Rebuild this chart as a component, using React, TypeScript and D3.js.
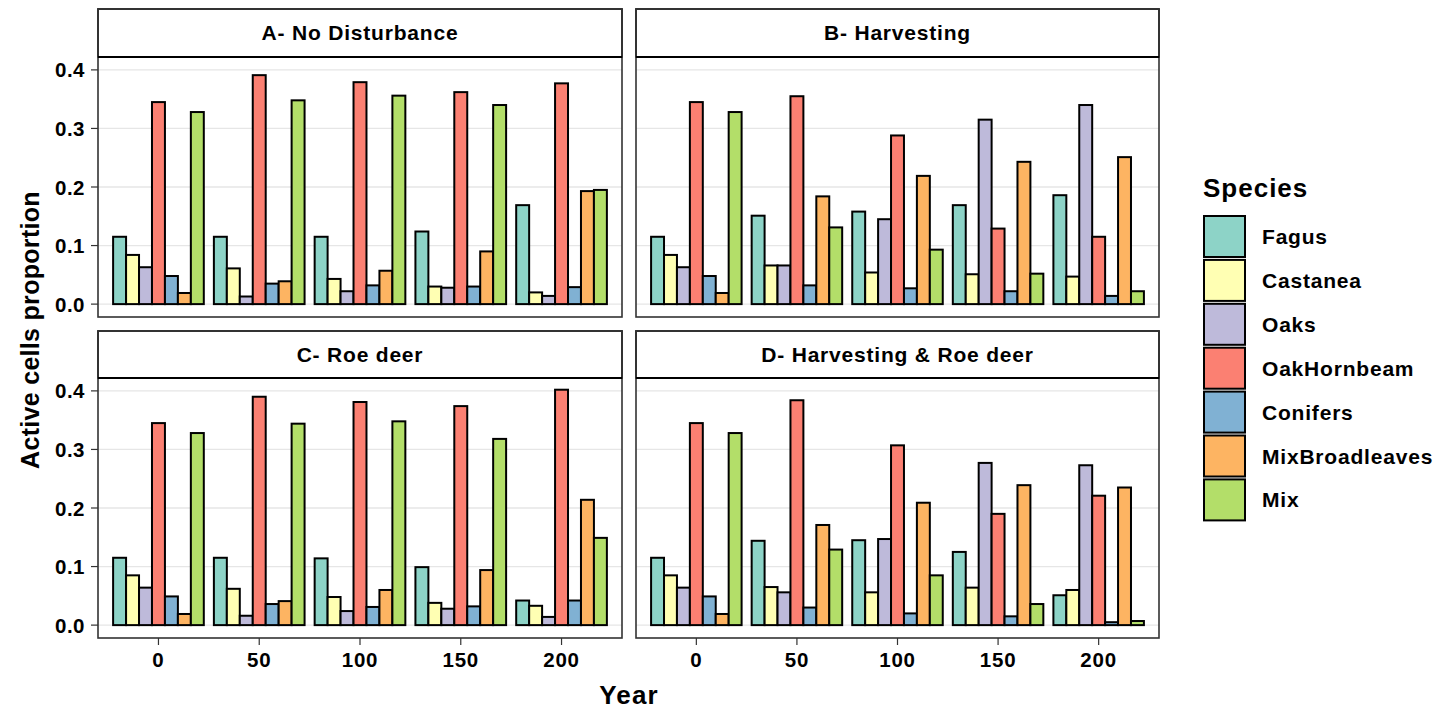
import * as d3 from "d3";

const species = ["Fagus", "Castanea", "Oaks", "OakHornbeam", "Conifers", "MixBroadleaves", "Mix"];
const colors = ["#8DD3C7", "#FFFFB3", "#BEBADA", "#FB8072", "#80B1D3", "#FDB462", "#B3DE69"];
const years = [0, 50, 100, 150, 200];
const yTicks = [0, 0.1, 0.2, 0.3, 0.4];
const panelTitles = ["A- No Disturbance", "B- Harvesting", "C- Roe deer", "D- Harvesting & Roe deer"];

// rows = species (same order as `species`), columns = years
const noDisturbance = [
  [0.115, 0.115, 0.115, 0.124, 0.169],
  [0.084, 0.061, 0.043, 0.030, 0.020],
  [0.063, 0.013, 0.022, 0.028, 0.014],
  [0.345, 0.391, 0.379, 0.362, 0.377],
  [0.048, 0.035, 0.032, 0.030, 0.029],
  [0.019, 0.039, 0.057, 0.090, 0.193],
  [0.328, 0.348, 0.356, 0.340, 0.195],
];
const harvesting = [
  [0.115, 0.151, 0.158, 0.169, 0.186],
  [0.084, 0.066, 0.054, 0.051, 0.047],
  [0.063, 0.066, 0.145, 0.315, 0.340],
  [0.345, 0.355, 0.288, 0.129, 0.115],
  [0.048, 0.032, 0.027, 0.022, 0.014],
  [0.019, 0.184, 0.219, 0.243, 0.251],
  [0.328, 0.131, 0.093, 0.052, 0.022],
];
const roeDeer = [
  [0.115, 0.115, 0.114, 0.099, 0.042],
  [0.085, 0.062, 0.048, 0.038, 0.033],
  [0.064, 0.016, 0.024, 0.028, 0.014],
  [0.345, 0.390, 0.381, 0.374, 0.402],
  [0.049, 0.036, 0.031, 0.032, 0.042],
  [0.019, 0.041, 0.060, 0.094, 0.214],
  [0.328, 0.344, 0.348, 0.318, 0.149],
];
const harvestRoe = [
  [0.115, 0.144, 0.145, 0.125, 0.051],
  [0.085, 0.065, 0.056, 0.064, 0.060],
  [0.064, 0.056, 0.147, 0.277, 0.273],
  [0.345, 0.384, 0.307, 0.190, 0.221],
  [0.049, 0.030, 0.020, 0.015, 0.005],
  [0.019, 0.171, 0.209, 0.239, 0.235],
  [0.328, 0.129, 0.085, 0.036, 0.007],
];
const panelData = [noDisturbance, harvesting, roeDeer, harvestRoe];

const FONT = "'Liberation Sans', Arial, Helvetica, sans-serif";

const cols = [
  { x0: 98, x1: 622 },
  { x0: 636, x1: 1159 },
];
const rows = [
  { top: 9, strip: 57, bottom: 317 },
  { top: 331, strip: 378, bottom: 638 },
];

function Panel({ idx }: { idx: number }) {
  const c = cols[idx % 2];
  const r = rows[Math.floor(idx / 2)];
  const data = panelData[idx];
  const x = d3.scaleLinear().domain([-30, 230]).range([c.x0, c.x1]);
  const y = d3.scaleLinear().domain([-0.022, 0.422]).range([r.bottom, r.strip]);
  const group = d3.scaleBand<number>().domain(d3.range(species.length)).range([-22.5, 22.5]);
  const showY = idx % 2 === 0;
  const showX = Math.floor(idx / 2) === 1;

  return (
    <g>
      {yTicks.map((t) => (
        <line key={t} x1={c.x0} x2={c.x1} y1={y(t)} y2={y(t)} stroke="#E6E6E6" strokeWidth={1.3} />
      ))}
      {years.map((yr, yi) =>
        species.map((s, si) => {
          const v = data[si][yi];
          const xa = x(yr + group(si)!);
          const xb = x(yr + group(si)! + group.bandwidth());
          return (
            <rect
              key={s + yr}
              x={xa}
              y={y(v)}
              width={xb - xa}
              height={y(0) - y(v)}
              fill={colors[si]}
              stroke="#000"
              strokeWidth={2}
            />
          );
        })
      )}
      <rect x={c.x0} y={r.top} width={c.x1 - c.x0} height={r.strip - r.top} fill="#fff" stroke="#000" strokeWidth={1.6} />
      <text
        x={(c.x0 + c.x1) / 2}
        y={(r.top + r.strip) / 2 + 7}
        textAnchor="middle"
        fontFamily={FONT}
        fontWeight="bold"
        fontSize={21}
        letterSpacing={0.8}
      >
        {panelTitles[idx]}
      </text>
      <rect x={c.x0} y={r.top} width={c.x1 - c.x0} height={r.bottom - r.top} fill="none" stroke="#333" strokeWidth={1.6} />
      <line x1={c.x0} x2={c.x1} y1={r.strip} y2={r.strip} stroke="#000" strokeWidth={2} />
      {showY &&
        yTicks.map((t) => (
          <g key={t}>
            <line x1={c.x0 - 7} x2={c.x0} y1={y(t)} y2={y(t)} stroke="#333" strokeWidth={1.2} />
            <text
              x={c.x0 - 13}
              y={y(t) + 7.5}
              textAnchor="end"
              fontFamily={FONT}
              fontWeight="bold"
              fontSize={20.5}
              letterSpacing={0.5}
              fill="#000"
            >
              {d3.format(".1f")(t)}
            </text>
          </g>
        ))}
      {showX &&
        years.map((yr) => (
          <g key={yr}>
            <line x1={x(yr)} x2={x(yr)} y1={r.bottom} y2={r.bottom + 7} stroke="#333" strokeWidth={1.2} />
            <text
              x={x(yr)}
              y={r.bottom + 29}
              textAnchor="middle"
              fontFamily={FONT}
              fontWeight="bold"
              fontSize={20.5}
              letterSpacing={0.8}
              fill="#000"
            >
              {yr}
            </text>
          </g>
        ))}
    </g>
  );
}

export default function App() {
  return (
    <div style={{ position: "absolute", left: 0, top: 0 }}>
      <svg width={1452} height={709} style={{ display: "block", background: "#fff" }}>
        {panelTitles.map((_, i) => (
          <Panel key={i} idx={i} />
        ))}
        <text x={629} y={704} textAnchor="middle" fontFamily={FONT} fontWeight="bold" fontSize={26} letterSpacing={1.2}>
          Year
        </text>
        <text
          transform="translate(39,330) rotate(-90)"
          textAnchor="middle"
          fontFamily={FONT}
          fontWeight="bold"
          fontSize={25}
          letterSpacing={0.3}
        >
          Active cells proportion
        </text>
        <text x={1203} y={197} fontFamily={FONT} fontWeight="bold" fontSize={26} letterSpacing={1}>
          Species
        </text>
        {species.map((s, i) => (
          <g key={s}>
            <rect x={1204} y={216 + i * 43.9} width={41} height={41} fill={colors[i]} stroke="#000" strokeWidth={2} />
            <text x={1262} y={216 + i * 43.9 + 28} fontFamily={FONT} fontWeight="bold" fontSize={21} letterSpacing={0.8}>
              {s}
            </text>
          </g>
        ))}
      </svg>
    </div>
  );
}
